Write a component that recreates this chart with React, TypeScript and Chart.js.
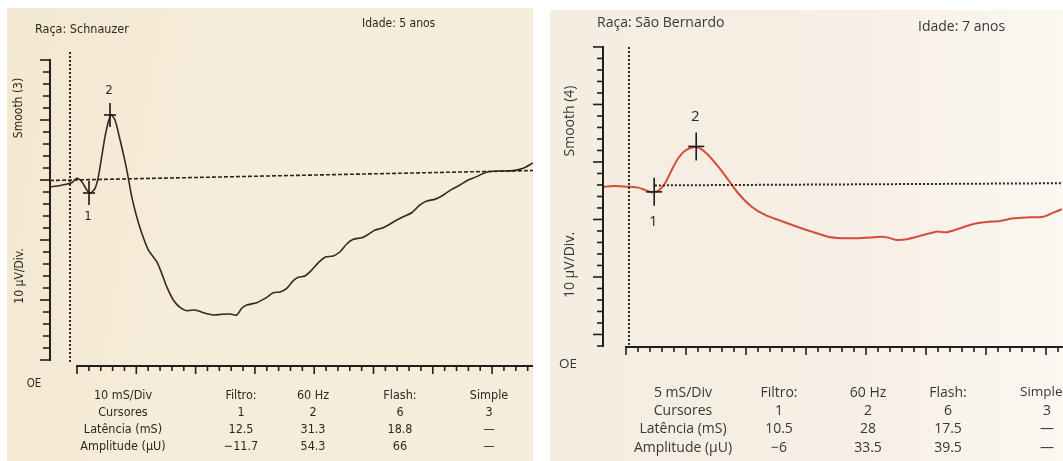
import React, { useEffect, useRef } from "react";
import { Chart, registerables } from "chart.js";

Chart.register(...registerables);

// ================= LEFT PANEL (Schnauzer) =================
// time in ms (0 = flash), amplitude in µV
const leftTime = [
  -16.9, -8.4, 1.4, 5.6, 9.9, 14.1, 16.9, 21.1, 23.9, 26.7, 29.5, 32.3, 34.6, 37.9, 42.2, 46.4,
  49.2, 52.0, 56.2, 60.5, 66.0, 73.1, 77.3, 81.5, 87.1, 92.7, 98.4, 105.4, 112.4, 120.8, 127.9,
  134.9, 140.6, 144.8, 149.0, 157.4, 165.9, 171.4, 177.1, 182.7, 188.3, 192.5, 198.1, 203.8,
  209.4, 215.0, 222.0, 227.7, 233.3, 238.9, 246.0, 251.5, 257.2, 262.8, 268.4, 274.0, 281.0,
  288.1, 295.1, 300.8, 307.8, 314.8, 321.8, 328.8, 335.8, 342.9, 349.9, 356.9, 365.3, 373.8,
  382.2, 390.4,
];
const leftAmp = [
  -5.8, -4.6, -2.3, 1.4, -1.4, -8.3, -11.1, -6.9, 2.8, 19.4, 36.1, 48.6, 54.2, 50.0, 33.3, 15.3,
  1.4, -13.9, -30.6, -44.4, -58.3, -68.1, -77.8, -88.9, -100.0, -106.1, -108.9, -108.3, -110.6,
  -112.5, -111.9, -111.7, -112.5, -106.9, -104.2, -102.2, -97.8, -93.9, -93.3, -90.3, -83.8,
  -81.1, -80.0, -75.0, -68.9, -64.4, -63.3, -59.8, -53.3, -49.4, -48.1, -45.3, -41.7, -40.3,
  -37.5, -34.2, -30.6, -27.3, -20.8, -17.5, -16.1, -12.5, -7.8, -4.2, 0.0, 2.8, 6.1, 7.3, 7.5,
  7.8, 9.8, 14.2,
];
const leftBaselineTime = [-16.9, 390.4];
const leftBaselineAmp = [-0.4, 7.9];
const leftStimTime = [0, 0];
const leftStimAmp = [106.7, -152.5];
const leftCursorTime = [16.0, 33.7];
const leftCursorAmp = [-10.8, 54.2];
const leftCursorLabels = ["1", "2"];
const leftXRange = [-16.9, 390.4];
const leftYRange = [-155, 107];
const leftYTicks = [100, -150, 10, 5]; // top, bottom, step, major every
const leftXTicks = [5.9, 390.4, 10, 5]; // first, last, step, major every
const leftHeader = ["Raça: Schnauzer", "Idade: 5 anos"];
const leftSide = ["Smooth (3)", "10 µV/Div.", "OE"];
const leftTable = [
  ["10 mS/Div", "Filtro:", "60 Hz", "Flash:", "Simple"],
  ["Cursores", "1", "2", "6", "3"],
  ["Latência (mS)", "12.5", "31.3", "18.8", "—"],
  ["Amplitude (µU)", "−11.7", "54.3", "66", "—"],
];

// ================= RIGHT PANEL (São Bernardo) =================
const rightTime = [
  -10.7, -5.8, -0.3, 3.9, 7.4, 9.7, 12.2, 15.0, 17.8, 20.5, 23.3, 26.8, 29.6, 33.0, 37.2, 41.4,
  45.5, 51.1, 56.7, 62.2, 69.2, 76.1, 83.0, 88.6, 94.2, 101.8, 105.3, 108.0, 111.5, 115.7, 121.3,
  128.2, 132.4, 137.9, 143.5, 149.0, 154.6, 160.1, 167.1, 172.6, 176.8, 180.3,
];
const rightAmp = [
  -1.5, -0.9, -1.5, -2.3, -5.0, -6.3, -5.2, 1.5, 13.0, 23.2, 29.8, 32.8, 31.9, 26.1, 15.9, 4.3,
  -7.2, -18.9, -26.1, -30.4, -35.7, -40.6, -45.0, -46.3, -46.3, -45.5, -45.0, -45.8, -47.8, -47.2,
  -44.3, -40.6, -41.1, -37.7, -33.9, -32.2, -31.3, -29.0, -28.1, -27.6, -24.1, -21.1,
];
const rightBaselineTime = [10.8, 180.8];
const rightBaselineAmp = [-0.4, 1.5];
const rightStimTime = [0, 0];
const rightStimAmp = [120, -139];
const rightCursorTime = [10.5, 28];
const rightCursorAmp = [-6, 33.5];
const rightCursorLabels = ["1", "2"];
const rightXRange = [-10.83, 180.83];
const rightYRange = [-140.9, 121.7];
const rightYTicks = [120, -140, 10, 5];
const rightXTicks = [-1.25, 180.8, 5, 5];
const rightHeader = ["Raça: São Bernardo", "Idade: 7 anos"];
const rightSide = ["Smooth (4)", "10 µV/Div.", "OE"];
const rightTable = [
  ["5 mS/Div", "Filtro:", "60 Hz", "Flash:", "Simple"],
  ["Cursores", "1", "2", "6", "3"],
  ["Latência (mS)", "10.5", "28", "17.5", "—"],
  ["Amplitude (µU)", "−6", "33.5", "39.5", "—"],
];

const W = 1063;
const H = 461;

const pts = (xs: number[], ys: number[]) => xs.map((x, i) => ({ x, y: ys[i] }));

const ergPlugin = {
  id: "erg",
  afterDatasetsDraw(chart: any, _args: any, o: any) {
    const { ctx, chartArea } = chart;
    const xs = chart.scales.x;
    const ys = chart.scales.y;
    const seg = (x1: number, y1: number, x2: number, y2: number) => {
      ctx.beginPath();
      ctx.moveTo(x1, y1);
      ctx.lineTo(x2, y2);
      ctx.stroke();
    };
    ctx.save();
    ctx.strokeStyle = o.axisColor;
    ctx.lineCap = "butt";
    // y axis
    const [yTop, yBot, yStep, yMaj] = o.yTicks;
    const ax = chartArea.left;
    ctx.lineWidth = 2;
    seg(ax, ys.getPixelForValue(yTop) - 1, ax, ys.getPixelForValue(yBot) + 1);
    ctx.lineWidth = 1.6;
    for (let i = 0; yTop - i * yStep >= yBot - 0.01; i++) {
      const py = ys.getPixelForValue(yTop - i * yStep);
      const len = i % yMaj === 0 ? o.yMajorLen : o.yMinorLen;
      seg(ax - len, py, ax, py);
    }
    // x axis
    const [xFirst, xLast, xStep, xMaj] = o.xTicks;
    const ay = chartArea.bottom;
    ctx.lineWidth = 2;
    seg(xs.getPixelForValue(xFirst) - 1, ay, xs.getPixelForValue(xLast), ay);
    ctx.lineWidth = 1.6;
    for (let i = 0; xFirst + i * xStep <= xLast + 0.01; i++) {
      const px = xs.getPixelForValue(xFirst + i * xStep);
      const len = i % xMaj === 0 ? o.xMajorLen : o.xMinorLen;
      seg(px, ay, px, ay + len);
    }
    // cursors
    ctx.strokeStyle = o.cursorColor;
    ctx.fillStyle = o.textColor;
    ctx.lineWidth = 1.6;
    ctx.font = `${o.cursorFont}px ${o.fontFamily}`;
    ctx.textAlign = "center";
    ctx.textBaseline = "middle";
    o.cursorTime.forEach((t: number, i: number) => {
      const px = xs.getPixelForValue(t);
      const py = ys.getPixelForValue(o.cursorAmp[i]);
      seg(px, py - o.cursorV, px, py + o.cursorV);
      seg(px - o.cursorH, py, px + o.cursorH, py);
      const below = o.cursorAmp[i] < 0;
      ctx.fillText(o.cursorLabels[i], px - 1, below ? py + o.labelOff : py - o.labelOff);
    });
    ctx.restore();
  },
};

type PanelSpec = {
  time: number[];
  amp: number[];
  baseT: number[];
  baseA: number[];
  stimT: number[];
  stimA: number[];
  xRange: number[];
  yRange: number[];
  padding: { left: number; right: number; top: number; bottom: number };
  curveColor: string;
  curveWidth: number;
  baseDash: number[];
  baseWidth: number;
  plugin: any;
};

function ErgChart({ spec }: { spec: PanelSpec }) {
  const ref = useRef<HTMLCanvasElement | null>(null);
  useEffect(() => {
    if (!ref.current) return;
    const chart = new Chart(ref.current, {
      type: "line",
      data: {
        datasets: [
          {
            data: pts(spec.baseT, spec.baseA),
            borderColor: "#2a2421",
            borderWidth: spec.baseWidth,
            borderDash: spec.baseDash,
            pointRadius: 0,
          },
          {
            data: pts(spec.stimT, spec.stimA),
            borderColor: "#2a2421",
            borderWidth: 2,
            borderDash: [2, 2],
            pointRadius: 0,
          },
          {
            data: pts(spec.time, spec.amp),
            borderColor: spec.curveColor,
            borderWidth: spec.curveWidth,
            pointRadius: 0,
            tension: 0.25,
          },
        ],
      },
      options: {
        animation: false,
        responsive: false,
        maintainAspectRatio: false,
        events: [],
        layout: { padding: spec.padding },
        scales: {
          x: { type: "linear", min: spec.xRange[0], max: spec.xRange[1], display: false },
          y: { type: "linear", min: spec.yRange[0], max: spec.yRange[1], display: false },
        },
        plugins: {
          legend: { display: false },
          tooltip: { enabled: false },
          erg: spec.plugin,
        } as any,
      },
      plugins: [ergPlugin],
    });
    return () => chart.destroy();
  }, []);
  return (
    <canvas
      ref={ref}
      width={W}
      height={H}
      style={{ position: "absolute", left: 0, top: 0, width: W, height: H }}
    />
  );
}

const Txt = ({
  x,
  y,
  children,
  size,
  font,
  color,
  align = "center",
  rotate = false,
}: any) => (
  <div
    style={{
      position: "absolute",
      left: x,
      top: y,
      transform:
        (align === "center" ? "translate(-50%, -50%)" : "translate(0, -50%)") +
        (rotate ? " rotate(-90deg)" : ""),
      fontSize: size,
      fontFamily: font,
      color,
      whiteSpace: "nowrap",
      lineHeight: 1,
    }}
  >
    {children}
  </div>
);

const LEFT_FONT = '"Liberation Sans Narrow", "DejaVu Sans Condensed", "Noto Sans", sans-serif';
const RIGHT_FONT = '"Open Sans", "Noto Sans", sans-serif';

export default function App() {
  const leftSpec: PanelSpec = {
    time: leftTime,
    amp: leftAmp,
    baseT: leftBaselineTime,
    baseA: leftBaselineAmp,
    stimT: leftStimTime,
    stimA: leftStimAmp,
    xRange: leftXRange,
    yRange: leftYRange,
    padding: { left: 50, right: W - 533, top: 51.6, bottom: H - 366 },
    curveColor: "#3b2621",
    curveWidth: 1.6,
    baseDash: [4, 2],
    baseWidth: 1.6,
    plugin: {
      axisColor: "#241d1a",
      cursorColor: "#1e1816",
      textColor: "#2a2421",
      yTicks: leftYTicks,
      xTicks: leftXTicks,
      yMajorLen: 10,
      yMinorLen: 7,
      xMajorLen: 8,
      xMinorLen: 5,
      cursorTime: leftCursorTime,
      cursorAmp: leftCursorAmp,
      cursorLabels: leftCursorLabels,
      cursorV: 12,
      cursorH: 6,
      labelOff: 24,
      cursorFont: 13,
      fontFamily: LEFT_FONT,
    },
  };
  const rightSpec: PanelSpec = {
    time: rightTime,
    amp: rightAmp,
    baseT: rightBaselineTime,
    baseA: rightBaselineAmp,
    stimT: rightStimTime,
    stimA: rightStimAmp,
    xRange: rightXRange,
    yRange: rightYRange,
    padding: { left: 603, right: 0, top: 45, bottom: H - 347 },
    curveColor: "#d64b3b",
    curveWidth: 2,
    baseDash: [2, 2],
    baseWidth: 2,
    plugin: {
      axisColor: "#221e1c",
      cursorColor: "#1c1a19",
      textColor: "#2e2b29",
      yTicks: rightYTicks,
      xTicks: rightXTicks,
      yMajorLen: 10,
      yMinorLen: 6,
      xMajorLen: 8,
      xMinorLen: 5,
      cursorTime: rightCursorTime,
      cursorAmp: rightCursorAmp,
      cursorLabels: rightCursorLabels,
      cursorV: 14,
      cursorH: 8,
      labelOff: 30,
      cursorFont: 15,
      fontFamily: RIGHT_FONT,
    },
  };

  const leftCols = [123, 241, 313, 400, 489];
  const leftRows = [395, 412, 429, 446];
  const rightCols = [683, 779, 868, 948, 1047];
  const rightRows = [392, 410, 428, 447];
  const lc = "#2e2825";
  const rc = "#3a3633";

  return (
    <div
      style={{
        position: "absolute",
        left: 0,
        top: 0,
        width: W,
        height: H,
        background: "#ffffff",
        overflow: "hidden",
      }}
    >
      <div
        style={{
          position: "absolute",
          left: 7,
          top: 8,
          width: 526,
          height: 453,
          background: "linear-gradient(100deg, #f3e8d0 0%, #f5ecd9 35%, #f5ecdb 100%)",
        }}
      />
      <div
        style={{
          position: "absolute",
          left: 550,
          top: 10,
          width: 513,
          height: 451,
          background: "linear-gradient(90deg, #f4ede2 0%, #f6efe5 60%, #fbf7f1 100%)",
        }}
      />
      <ErgChart spec={leftSpec} />
      <ErgChart spec={rightSpec} />

      {/* left texts */}
      <Txt x={35} y={29} size={12.5} font={LEFT_FONT} color={lc} align="left">
        {leftHeader[0]}
      </Txt>
      <Txt x={362} y={23} size={12} font={LEFT_FONT} color={lc} align="left">
        {leftHeader[1]}
      </Txt>
      <Txt x={18} y={108} size={12} font={LEFT_FONT} color={lc} rotate>
        {leftSide[0]}
      </Txt>
      <Txt x={19} y={276} size={12} font={LEFT_FONT} color={lc} rotate>
        {leftSide[1]}
      </Txt>
      <Txt x={34} y={384} size={11.5} font={LEFT_FONT} color={lc}>
        {leftSide[2]}
      </Txt>
      {leftTable.map((row, r) =>
        row.map((cell, c) => (
          <Txt key={`l${r}-${c}`} x={leftCols[c]} y={leftRows[r]} size={12.5} font={LEFT_FONT} color={lc}>
            {cell}
          </Txt>
        ))
      )}

      {/* right texts */}
      <Txt x={597} y={22} size={14} font={RIGHT_FONT} color={rc} align="left">
        {rightHeader[0]}
      </Txt>
      <Txt x={918} y={26} size={14} font={RIGHT_FONT} color={rc} align="left">
        {rightHeader[1]}
      </Txt>
      <Txt x={569} y={121} size={14} font={RIGHT_FONT} color={rc} rotate>
        {rightSide[0]}
      </Txt>
      <Txt x={569} y={265} size={14} font={RIGHT_FONT} color={rc} rotate>
        {rightSide[1]}
      </Txt>
      <Txt x={568} y={364} size={13.5} font={RIGHT_FONT} color={rc}>
        {rightSide[2]}
      </Txt>
      {rightTable.map((row, r) =>
        row.map((cell, c) =>
          r === 0 && c === 4 ? (
            <Txt key={`r${r}-${c}`} x={1020} y={rightRows[r]} size={13.5} font={RIGHT_FONT} color={rc} align="left">
              {cell}
            </Txt>
          ) : (
            <Txt key={`r${r}-${c}`} x={rightCols[c]} y={rightRows[r]} size={14} font={RIGHT_FONT} color={rc}>
              {cell}
            </Txt>
          )
        )
      )}
    </div>
  );
}
